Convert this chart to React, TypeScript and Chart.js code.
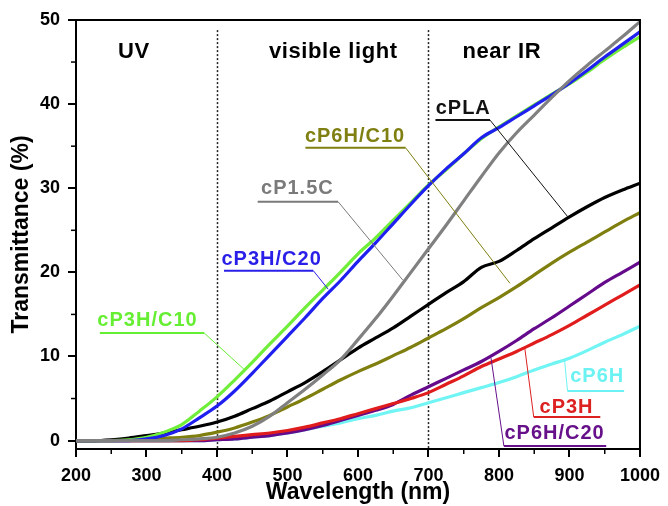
import React, { useEffect, useRef } from "react";
import { Chart, registerables } from "chart.js";

Chart.register(...registerables);

// ---------- data ----------
const wavelengths = [
  200, 225, 250, 275, 300, 325, 350, 375, 400, 425, 450, 475, 500, 525, 550, 575, 600,
  625, 650, 675, 700, 725, 750, 775, 800, 825, 850, 875, 900, 925, 950, 975, 1000,
];

const cP3H_C10 = [
  0, 0, 0, 0.1, 0.4, 1.0, 1.9, 3.5, 5.2, 7.2, 9.3, 11.5, 13.6, 15.8, 17.9, 20.0, 22.2,
  24.1, 26.2, 28.3, 30.4, 32.2, 34.1, 35.9, 37.3, 38.6, 39.9, 41.2, 42.4, 43.8, 45.3, 46.7, 48.0,
];
const cP3H_C20 = [
  0, 0, 0, 0, 0.2, 0.6, 1.4, 2.7, 4.1, 5.9, 8.0, 10.2, 12.4, 14.6, 16.9, 19.0, 21.3,
  23.5, 25.8, 28.1, 30.3, 32.3, 34.1, 36.0, 37.2, 38.5, 39.8, 41.1, 42.5, 44.0, 45.6, 47.1, 48.6,
];
const cP1_5C = [
  0, 0, 0, 0, 0, 0, 0.1, 0.2, 0.4, 0.9, 1.7, 2.9, 4.5, 6.1, 7.8, 9.6, 12.0,
  14.5, 17.2, 20.0, 22.8, 25.6, 28.5, 31.4, 34.2, 36.6, 38.7, 40.8, 42.8, 44.6, 46.3, 48.0, 49.8,
];
const cPLA = [
  0, 0, 0.1, 0.3, 0.6, 0.9, 1.3, 1.7, 2.2, 2.9, 3.8, 4.7, 5.8, 6.9, 8.2, 9.6, 11.0,
  12.2, 13.4, 14.8, 16.2, 17.6, 18.9, 20.6, 21.3, 22.6, 24.0, 25.3, 26.6, 27.8, 28.9, 29.8, 30.6,
];
const cP6H_C10 = [
  0, 0, 0, 0.1, 0.2, 0.3, 0.4, 0.6, 1.0, 1.5, 2.2, 3.0, 4.0, 5.0, 6.1, 7.2, 8.2,
  9.1, 10.1, 11.1, 12.2, 13.3, 14.5, 15.8, 17.0, 18.3, 19.7, 21.1, 22.4, 23.6, 24.8, 26.0, 27.1,
];
const cP3H = [
  0, 0, 0, 0, 0, 0, 0, 0.1, 0.3, 0.5, 0.7, 0.9, 1.2, 1.6, 2.1, 2.6, 3.2,
  3.8, 4.4, 5.0, 5.7, 6.7, 7.7, 8.8, 9.7, 10.6, 11.6, 12.6, 13.7, 14.9, 16.1, 17.3, 18.5,
];
const cP6H_C20 = [
  0, 0, 0, 0, 0, 0, 0, 0, 0.1, 0.2, 0.4, 0.6, 0.9, 1.3, 1.8, 2.4, 3.0,
  3.6, 4.3, 5.4, 6.4, 7.4, 8.4, 9.4, 10.6, 11.9, 13.3, 14.6, 16.0, 17.4, 18.8, 20.0, 21.2,
];
const cP6H = [
  0, 0, 0, 0, 0, 0, 0, 0, 0.1, 0.2, 0.4, 0.6, 0.9, 1.3, 1.7, 2.1, 2.6,
  3.0, 3.5, 3.9, 4.5, 5.1, 5.7, 6.3, 6.9, 7.6, 8.4, 9.1, 9.8, 10.7, 11.7, 12.6, 13.6,
];

const xTicks = [200, 300, 400, 500, 600, 700, 800, 900, 1000];
const xMinorTicks = [250, 350, 450, 550, 650, 750, 850, 950];
const yTicks = [0, 10, 20, 30, 40, 50];
const yMinorTicks = [5, 15, 25, 35, 45];

const dividerWavelengths = [400, 700];
const regionNames = ["UV", "visible light", "near IR"];

// ---------- annotation layout (data coordinates) ----------
const regionLabelX = [282, 565, 804];
const regionLabelY = 46.2;
const dividerTop = 48.8;

const FONT = '"Liberation Sans", Arial, sans-serif';

type Callout = {
  text: string;
  color: string;
  tx: number;
  ty: number;
  ux1: number;
  ux2: number;
  uy: number;
  lx1: number;
  ly1: number;
  lx2: number;
  ly2: number;
};

const callouts: Callout[] = [
  { text: "cP3H/C10", color: "#66ee33", tx: 301.4, ty: 14.3, ux1: 233.8, ux2: 381.7, uy: 12.8, lx1: 381.7, ly1: 12.8, lx2: 438, ly2: 8.5 },
  { text: "cP3H/C20", color: "#2a1fe8", tx: 477.5, ty: 21.5, ux1: 409.9, ux2: 536.6, uy: 20.2, lx1: 536.6, ly1: 20.2, lx2: 557.7, ly2: 18.0 },
  { text: "cP1.5C", color: "#7a7a7a", tx: 514, ty: 30.0, ux1: 457.7, ux2: 571.8, uy: 28.4, lx1: 571.8, ly1: 28.4, lx2: 663.4, ly2: 19.1 },
  { text: "cP6H/C10", color: "#7f7f12", tx: 595.8, ty: 36.1, ux1: 525.4, ux2: 667.6, uy: 34.8, lx1: 667.6, ly1: 34.8, lx2: 815.5, ly2: 18.7 },
  { text: "cPLA", color: "#111111", tx: 749.3, ty: 39.5, ux1: 709.9, ux2: 787.3, uy: 38.1, lx1: 787.3, ly1: 38.1, lx2: 898.6, ly2: 26.5 },
  { text: "cP6H", color: "#6cf2f2", tx: 939.4, ty: 7.6, ux1: 897.2, ux2: 977.5, uy: 5.9, lx1: 897.2, ly1: 5.9, lx2: 893, ly2: 9.6 },
  { text: "cP3H", color: "#dd2020", tx: 895.8, ty: 3.9, ux1: 849.3, ux2: 943.7, uy: 2.8, lx1: 849.3, ly1: 2.8, lx2: 836.6, ly2: 11.0 },
  { text: "cP6H/C20", color: "#66108a", tx: 878.9, ty: 0.9, ux1: 807, ux2: 952.1, uy: -0.65, lx1: 807, ly1: -0.65, lx2: 788.7, ly2: 9.8 },
];

const decorPlugin = {
  id: "decor",
  beforeDatasetsDraw(chart: any) {
    const { ctx, chartArea: a, scales } = chart;
    const x = scales.x;
    const y = scales.y;
    ctx.save();
    ctx.strokeStyle = "#222";
    ctx.lineWidth = 1.5;
    ctx.setLineDash([2, 2]);
    dividerWavelengths.forEach((w) => {
      const px = Math.round(x.getPixelForValue(w)) + 0.5;
      ctx.beginPath();
      ctx.moveTo(px, y.getPixelForValue(dividerTop));
      ctx.lineTo(px, a.bottom);
      ctx.stroke();
    });
    ctx.setLineDash([]);
    ctx.fillStyle = "#000";
    ctx.font = `bold 22px ${FONT}`;
    (ctx as any).letterSpacing = "0.6px";
    ctx.textAlign = "center";
    ctx.textBaseline = "middle";
    regionNames.forEach((n, i) => {
      ctx.fillText(n, x.getPixelForValue(regionLabelX[i]), y.getPixelForValue(regionLabelY));
    });
    (ctx as any).letterSpacing = "0px";
    ctx.restore();
  },
  afterDraw(chart: any) {
    const { ctx, chartArea: a, scales } = chart;
    const x = scales.x;
    const y = scales.y;
    ctx.save();
    // top & right frame
    ctx.strokeStyle = "#000";
    ctx.lineWidth = 2;
    ctx.beginPath();
    ctx.moveTo(a.left, a.top);
    ctx.lineTo(a.right, a.top);
    ctx.lineTo(a.right, a.bottom);
    ctx.stroke();
    // minor ticks
    ctx.lineWidth = 1.5;
    xMinorTicks.forEach((v) => {
      const px = x.getPixelForValue(v);
      ctx.beginPath();
      ctx.moveTo(px, a.bottom);
      ctx.lineTo(px, a.bottom + 5);
      ctx.stroke();
    });
    yMinorTicks.forEach((v) => {
      const py = y.getPixelForValue(v);
      ctx.beginPath();
      ctx.moveTo(a.left, py);
      ctx.lineTo(a.left - 5, py);
      ctx.stroke();
    });
    // callouts
    ctx.font = `bold 20px ${FONT}`;
    (ctx as any).letterSpacing = "1px";
    ctx.textAlign = "center";
    ctx.textBaseline = "middle";
    callouts.forEach((c) => {
      ctx.fillStyle = c.color;
      ctx.strokeStyle = c.color;
      ctx.fillText(c.text, x.getPixelForValue(c.tx), y.getPixelForValue(c.ty));
      ctx.lineWidth = 2;
      ctx.beginPath();
      ctx.moveTo(x.getPixelForValue(c.ux1), y.getPixelForValue(c.uy));
      ctx.lineTo(x.getPixelForValue(c.ux2), y.getPixelForValue(c.uy));
      ctx.stroke();
      ctx.lineWidth = 1;
      ctx.beginPath();
      ctx.moveTo(x.getPixelForValue(c.lx1), y.getPixelForValue(c.ly1));
      ctx.lineTo(x.getPixelForValue(c.lx2), y.getPixelForValue(c.ly2));
      ctx.stroke();
    });
    (ctx as any).letterSpacing = "0px";
    ctx.restore();
  },
};

function series(label: string, values: number[], color: string) {
  return {
    label,
    data: wavelengths.map((w, i) => ({ x: w, y: values[i] })),
    borderColor: color,
    backgroundColor: color,
    borderWidth: 3.2,
    pointRadius: 0,
    cubicInterpolationMode: "monotone" as const,
    fill: false,
  };
}

export default function App() {
  const ref = useRef<HTMLCanvasElement | null>(null);

  useEffect(() => {
    document.body.style.margin = "0";
    if (!ref.current) return;
    const chart = new Chart(ref.current, {
      type: "line",
      data: {
        datasets: [
          series("cP1.5C", cP1_5C, "#808080"),
          series("cP3H/C20", cP3H_C20, "#1f1ff0"),
          series("cP3H/C10", cP3H_C10, "#70ee3a"),
          series("cPLA", cPLA, "#000000"),
          series("cP6H/C10", cP6H_C10, "#7f7f10"),
          series("cP3H", cP3H, "#e01c1c"),
          series("cP6H/C20", cP6H_C20, "#660a8c"),
          series("cP6H", cP6H, "#70f4f4"),
        ],
      },
      options: {
        animation: false,
        responsive: true,
        maintainAspectRatio: false,
        layout: { padding: { top: 20, right: 24, bottom: 0, left: 0 } },
        plugins: {
          legend: { display: false },
          tooltip: { enabled: false },
        },
        scales: {
          x: {
            type: "linear",
            min: 200,
            max: 1000,
            afterBuildTicks: (s: any) => {
              s.ticks = xTicks.map((v) => ({ value: v }));
            },
            afterFit: (s: any) => {
              s.height = 57;
            },
            grid: {
              drawOnChartArea: false,
              drawTicks: true,
              tickLength: 8,
              color: "#000",
              lineWidth: 2,
            },
            border: { display: true, color: "#000", width: 2 },
            ticks: {
              color: "#000",
              padding: 8,
              maxRotation: 0,
              autoSkip: false,
              callback: (v: any) => String(v),
              font: { family: FONT, size: 18, weight: "bold" },
            },
            title: {
              display: true,
              text: "Wavelength (nm)",
              color: "#000",
              padding: { top: 0, bottom: 0 },
              font: { family: FONT, size: 23, weight: "bold" },
            },
          },
          y: {
            type: "linear",
            min: -1,
            max: 50,
            afterBuildTicks: (s: any) => {
              s.ticks = yTicks.map((v) => ({ value: v }));
            },
            afterFit: (s: any) => {
              s.width = 76;
            },
            grid: {
              drawOnChartArea: false,
              drawTicks: true,
              tickLength: 8,
              color: "#000",
              lineWidth: 2,
            },
            border: { display: true, color: "#000", width: 2 },
            ticks: {
              color: "#000",
              padding: 8,
              autoSkip: false,
              callback: (v: any) => String(v),
              font: { family: FONT, size: 18, weight: "bold" },
            },
            title: {
              display: true,
              text: "Transmittance (%)",
              color: "#000",
              padding: { top: 8, bottom: 0 },
              font: { family: FONT, size: 23, weight: "bold" },
            },
          },
        },
      },
      plugins: [decorPlugin],
    });
    return () => chart.destroy();
  }, []);

  return (
    <div style={{ position: "relative", width: 668, height: 506 }}>
      <canvas ref={ref} />
    </div>
  );
}
